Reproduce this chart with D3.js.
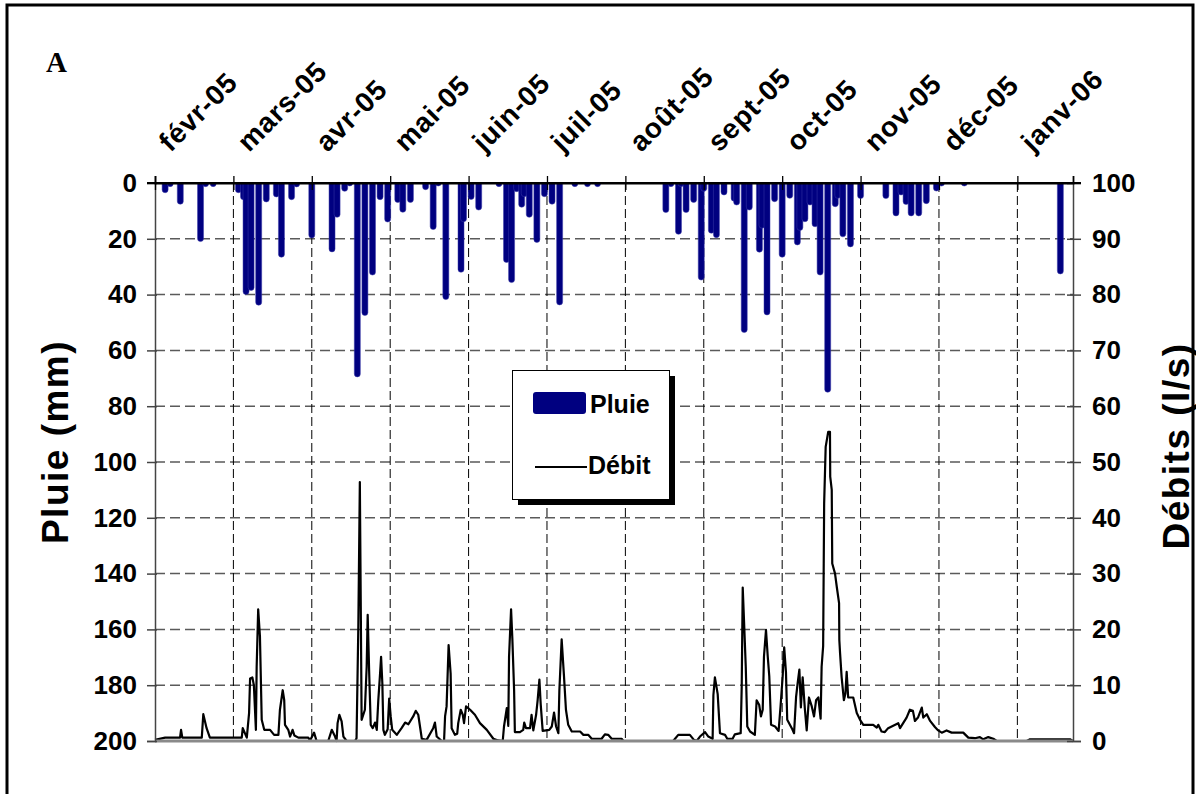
<!DOCTYPE html>
<html>
<head>
<meta charset="utf-8">
<script src="https://cdn.jsdelivr.net/npm/d3@7"></script>
<style>
    body { margin: 0; background: #fff; }
    svg text { font-family: "Liberation Sans", Arial, sans-serif; font-weight: bold; fill: #000; }
</style>
</head>
<body>
<div id="chart"></div>
<script>
'use strict';

// Axis set-up: daily series starting 1 Feb 2005, month ticks every 31 days
const startDate = new Date(2005, 1, 1);
const spanDays = 363;
const tickStep = 31;
const monthLabels = ['févr-05', 'mars-05', 'avr-05', 'mai-05', 'juin-05', 'juil-05',
    'août-05', 'sept-05', 'oct-05', 'nov-05', 'déc-05', 'janv-06'];
const rainTicks = [0, 20, 40, 60, 80, 100, 120, 140, 160, 180, 200];
const debitTicks = [0, 10, 20, 30, 40, 50, 60, 70, 80, 90, 100];

// Pluie (mm) - day offset from 1 Feb 2005 and daily rain
const rainDay = [4, 6, 10, 18, 20, 23, 33, 35, 36, 38, 41, 44, 48, 50, 54, 56, 62, 70, 72, 75, 77,
    80, 83, 86, 89, 92, 96, 98, 101, 107, 110, 112, 115, 121, 122, 125, 128, 136, 139, 141, 143,
    145, 146, 148, 151, 154, 157, 160, 166, 171, 175, 202, 204, 207, 208, 210, 213, 216, 217,
    220, 222, 225, 229, 230, 233, 235, 239, 240, 242, 245, 248, 251, 254, 255, 257, 259, 261,
    263, 266, 269, 270, 272, 275, 279, 289, 293, 295, 297, 299, 302, 305, 309, 311, 320, 358];
const rainMm = [3.5, 1.3, 7.6, 21, 1.3, 1.3, 3.5, 6, 40, 38.5, 43.8, 6.8, 5, 26.6, 6, 1.4, 19.7, 24.7, 12.3, 3, 1,
    69.5, 47.5, 33, 6, 14, 7, 10.5, 7, 2.4, 16.7, 1, 41.8, 32, 13.9, 5.9, 9.7, 1.3, 28.5, 35.7, 3.1,
    8.7, 4.9, 12.3, 21.3, 4.9, 7.6, 43.7, 1.3, 1.3, 1.3, 10.6, 1.3, 18.4, 1.3, 10.6, 7, 34.8, 3,
    18, 19.6, 4.3, 6.5, 7.9, 53.6, 9.7, 24.8, 16.2, 47.3, 6.7, 26.6, 5.5, 22.2, 17, 13.9, 7.9, 15.7,
    33, 75, 8.5, 5.5, 19.3, 22.9, 5.6, 5.6, 11.8, 4.3, 7.7, 11.8, 11.8, 7.4, 2.9, 1.1, 1.1, 32.6];

// Débit (l/s) - traced vertices of the discharge curve
const debitDay = [0, 4.0, 9.9, 10.3, 10.8, 18.5, 19.1, 20.4, 21.7, 34.3, 34.7, 36.3, 37.2, 37.6, 38.5,
    39.1, 39.9, 40.2, 40.8, 41.5, 42.2, 43.2, 45.5, 47.1, 48.8, 49.4, 50.5, 51.1, 51.4, 52.7, 53.4,
    54.4, 55.1, 56.7, 60.6, 61.3, 62.9, 63.9, 68.5, 69.9, 71.2, 71.8, 72.2, 72.9, 73.8, 74.5, 75.8,
    79.1, 79.7, 80.4, 81.0, 81.7, 83.0, 83.7, 84.1, 84.7, 85.3, 86.1, 87.0, 87.7, 88.3, 89.0, 89.4,
    89.9, 90.3, 90.9, 92.0, 92.6, 93.2, 93.8, 95.6, 97.5, 98.9, 100.2, 102.1, 103.1, 104.1, 105.5,
    107.4, 110.0, 110.7, 111.4, 113.4, 114.3, 114.7, 115.3, 116.1, 116.9, 117.3, 118.6, 119.5,
    119.9, 120.9, 121.7, 122.2, 123.0, 124.6, 126.5, 128.5, 131.2, 133.8, 135.7, 137.5, 138.0,
    139.1, 139.7, 140.0, 140.8, 141.3, 142.0, 142.3, 144.3, 145.6, 146.0, 146.7, 148.3, 148.9,
    149.6, 150.7, 151.3, 152.0, 152.5, 153.3, 155.9, 156.9, 157.8, 158.6, 159.5, 159.9, 160.8,
    161.7, 162.5, 163.4, 164.8, 168.1, 169.4, 171.3, 172.7, 176.6, 177.9, 179.2, 180.6, 184.5,
    185.2, 204.9, 206.9, 211.5, 213.1, 214.2, 215.5, 217.5, 218.8, 220.5, 220.8, 221.4, 222.5,
    223.4, 225.4, 226.3, 228.4, 229.3, 231.6, 232.0, 232.4, 233.0, 233.6, 234.2, 235.3, 237.2,
    237.9, 238.9, 239.6, 240.3, 240.8, 241.6, 242.3, 242.9, 243.6, 245.2, 246.6, 247.4, 248.2,
    248.8, 249.5, 250.0, 251.8, 252.7, 253.5, 254.1, 254.8, 255.4, 256.1, 257.0, 257.7, 258.6,
    259.7, 260.6, 261.4, 262.3, 263.2, 263.6, 264.2, 264.6, 265.2, 266.2, 266.9, 267.0, 267.6,
    267.8, 268.9, 269.6, 270.5, 270.6, 270.9, 271.5, 272.4, 273.0, 273.5, 274.1, 276.1, 277.5,
    278.8, 280.1, 284.0, 285.4, 286.0, 287.3, 288.6, 289.9, 293.9, 294.6, 297.2, 298.5, 299.7,
    300.5, 301.7, 303.2, 303.8, 305.2, 306.5, 308.4, 309.7, 311.1, 313.0, 315.0, 319.6, 321.6,
    324.2, 326.2, 327.5, 329.5, 331.5, 332.8, 344.7, 346.0, 361.8, 363.0];
const debitLs = [0.2, 0.6, 0.6, 2.0, 0.6, 0.6, 4.8, 2.3, 0.6, 0.6, 2.3, 0.6, 5, 11.2, 11.4,
    10, 2, 13.3, 23.6, 18.7, 3.8, 2, 2, 1.1, 1.1, 5.6, 9.1, 7.3, 2.9, 2, 0.8,
    2, 1, 0.6, 0.6, 0.1, 1.5, 0, 0, 2, 0.8, 0, 3.2, 4.7, 3.5, 0.8, 0,
    0, 0.5, 20.5, 46.4, 3.8, 5.6, 13.3, 22.6, 12.1, 2.9, 2.3, 3.3, 2, 7.3, 12.1, 15.1,
    10.3, 2, 1.1, 2.1, 7.6, 4.4, 2, 1.1, 2.3, 3.3, 3, 4.4, 5.4, 4.7, 0.4,
    0.2, 2.3, 3.3, 0.8, 0, 0, 4.4, 6.2, 17.2, 12.1, 2.3, 1.1, 1.3,
    3.2, 5.6, 4.7, 3.2, 6.2, 5.6, 4.7, 3.2, 2, 0.4, 0.1, 0, 2.6,
    5.9, 2.7, 15.1, 23.6, 18.4, 9.1, 1.6, 1.6, 2, 3.3, 2.3, 2.3, 4.7,
    1.9, 4.7, 7.3, 11, 6.7, 1.8, 2, 2.6, 5.1, 2.6, 1.4, 9.1, 18.2,
    11.8, 5.6, 2.9, 1.7, 1.7, 1.1, 1.1, 0.4, 0.4, 1.2, 1.1, 0.4, 0.4,
    0, 0, 1.1, 1.1, 0.2, 0, 0.8, 1.6, 0.8, 0.4, 8.2, 11.4, 8.4,
    1.4, 1.1, 0.4, 0.4, 1.2, 1.4, 9.7, 27.5, 20.5, 13.3, 2.6, 1.7, 1.1,
    7.3, 6.5, 4.4, 5.6, 15.1, 19.9, 15.1, 11.6, 2.9, 2.6, 1.8, 6.5, 11.6,
    16.8, 12.3, 3.8, 2.3, 1.4, 7.9, 10.3, 12.8, 6, 11.4, 5.6, 1.9, 7.8,
    6.2, 4.4, 7.3, 7.8, 4, 13.3, 17, 42.6, 52.7, 55.4, 55.4, 47.4, 45,
    31.8, 30, 27.6, 24.7, 18.1, 15.7, 11.5, 7.3, 8.5, 12.4, 7.8, 7.8, 5,
    3.8, 2.9, 2.9, 2.4, 2.9, 1.7, 1.6, 2.3, 3.2, 2.3, 4.2, 5.6, 5.4,
    3.6, 4.2, 6, 4.2, 4.8, 3.6, 2.5, 1.9, 1.5, 1.9, 1.5, 1.5, 0.6,
    0.5, 0.7, 0.3, 0.7, 0.4, 0, 0, 0.3, 0.3, 0];

const width = 1196;
const height = 794;
const plot = { left: 155, right: 1073, top: 183, bottom: 741 };
const barWidth = 6;
const barColor = '#000080';

function dayToDate(d) {
    return new Date(startDate.getTime() + d * 864e5);
}

function main() {
    let svg = d3.select('#chart')
        .append('svg')
        .attr('width', width)
        .attr('height', height);

    // Outer frame
    svg.append('rect')
        .attr('x', 7).attr('y', 5)
        .attr('width', 1186).attr('height', 800)
        .attr('fill', 'none').attr('stroke', '#000').attr('stroke-width', 3);

    let x = d3.scaleTime()
        .domain([startDate, dayToDate(spanDays)])
        .range([plot.left, plot.right]);
    let yRain = d3.scaleLinear().domain([0, 200]).range([plot.top, plot.bottom]);
    let yDebit = d3.scaleLinear().domain([0, 100]).range([plot.bottom, plot.top]);

    let monthDates = monthLabels.map((m, i) => dayToDate(i * tickStep));

    // Gridlines
    svg.append('g').selectAll('line')
        .data(rainTicks.slice(1, -1))
        .enter().append('line')
        .attr('x1', plot.left).attr('x2', plot.right)
        .attr('y1', d => yRain(d)).attr('y2', d => yRain(d))
        .attr('stroke', '#5a5a5a').attr('stroke-width', 1.5)
        .attr('stroke-dasharray', '10,5');

    svg.append('g').selectAll('line')
        .data(monthDates.slice(1))
        .enter().append('line')
        .attr('x1', d => x(d)).attr('x2', d => x(d))
        .attr('y1', plot.top).attr('y2', plot.bottom)
        .attr('stroke', '#000').attr('stroke-width', 1)
        .attr('stroke-dasharray', '9,4');

    // Rain bars hanging from the top axis, rounded at the bottom
    let r = barWidth / 2;
    svg.append('g').selectAll('path')
        .data(rainDay.map((d, i) => ({ day: d, mm: rainMm[i] })))
        .enter().append('path')
        .attr('fill', barColor)
        .attr('stroke', '#3b3ba8').attr('stroke-width', 0.5)
        .attr('d', (d) => {
            let cx = x(dayToDate(d.day));
            let yb = Math.max(yRain(d.mm), plot.top + r);
            return `M${cx - r},${plot.top}V${yb - r}`
                + `A${r},${r} 0 0 0 ${cx + r},${yb - r}`
                + `V${plot.top}Z`;
        });

    // Discharge line
    let line = d3.line()
        .x(d => x(dayToDate(d[0])))
        .y(d => yDebit(d[1]));
    svg.append('path')
        .datum(debitDay.map((d, i) => [d, debitLs[i]]))
        .attr('fill', 'none')
        .attr('stroke', '#000')
        .attr('stroke-width', 2.2)
        .attr('stroke-linejoin', 'round')
        .attr('d', line);

    // Bottom baseline (grey)
    svg.append('line')
        .attr('x1', plot.left).attr('x2', plot.right)
        .attr('y1', plot.bottom).attr('y2', plot.bottom)
        .attr('stroke', '#8a8a8a').attr('stroke-width', 3);

    // Left axis - Pluie
    let leftAxis = svg.append('g')
        .attr('transform', `translate(${plot.left},0)`)
        .call(d3.axisLeft(yRain).tickValues(rainTicks).tickSize(8).tickPadding(10));
    leftAxis.select('.domain').attr('stroke', '#444').attr('stroke-width', 1.5);
    leftAxis.selectAll('.tick line').attr('x2', 2).attr('x1', -8).attr('stroke', '#444').attr('stroke-width', 1.5);
    leftAxis.selectAll('text').style('font-size', '26px');

    // Right axis - Débits
    let rightAxis = svg.append('g')
        .attr('transform', `translate(${plot.right},0)`)
        .call(d3.axisRight(yDebit).tickValues(debitTicks).tickSize(8).tickPadding(11));
    rightAxis.select('.domain').attr('stroke', '#444').attr('stroke-width', 1.5);
    rightAxis.selectAll('.tick line').attr('x1', -6).attr('x2', 8).attr('stroke', '#444').attr('stroke-width', 1.5);
    rightAxis.selectAll('text').style('font-size', '26px');

    // Top axis - months
    let topAxis = svg.append('g')
        .attr('transform', `translate(0,${plot.top})`)
        .call(d3.axisTop(x).tickValues(monthDates).tickSize(7)
            .tickFormat((d, i) => monthLabels[i]));
    topAxis.select('.domain').attr('stroke', '#000').attr('stroke-width', 1.8);
    topAxis.selectAll('.tick line').attr('y1', 7).attr('y2', -7).attr('stroke', '#000').attr('stroke-width', 1.3);
    topAxis.selectAll('text')
        .attr('x', 15).attr('y', -30).attr('dy', 0)
        .attr('text-anchor', 'start')
        .attr('transform', 'rotate(-45 15 -30)')
        .style('font-size', '28px')
        .style('letter-spacing', '0.8px');
    svg.append('line')
        .attr('x1', plot.left - 8).attr('x2', plot.right + 8)
        .attr('y1', plot.top).attr('y2', plot.top)
        .attr('stroke', '#000').attr('stroke-width', 1.8);

    // Axis titles
    svg.append('text')
        .attr('transform', 'translate(68,442) rotate(-90)')
        .attr('text-anchor', 'middle')
        .style('font-size', '37px')
        .style('letter-spacing', '1.5px')
        .text('Pluie (mm)');
    svg.append('text')
        .attr('transform', 'translate(1189,446) rotate(-90)')
        .attr('text-anchor', 'middle')
        .style('font-size', '37px')
        .style('letter-spacing', '1.5px')
        .text('Débits (l/s)');

    svg.append('text')
        .attr('x', 46).attr('y', 72)
        .style('font-family', '"Liberation Serif", "Times New Roman", serif')
        .style('font-size', '29px')
        .text('A');

    // Legend
    let legend = svg.append('g');
    legend.append('rect')
        .attr('x', 518).attr('y', 376).attr('width', 157).attr('height', 129)
        .attr('fill', '#000');
    legend.append('rect')
        .attr('x', 512.5).attr('y', 370.5).attr('width', 157).attr('height', 129)
        .attr('fill', '#fff').attr('stroke', '#000').attr('stroke-width', 1);
    legend.append('rect')
        .attr('x', 533).attr('y', 392).attr('width', 53).attr('height', 22).attr('rx', 3)
        .attr('fill', barColor);
    legend.append('text')
        .attr('x', 590).attr('y', 413)
        .style('font-size', '25px')
        .text('Pluie');
    legend.append('line')
        .attr('x1', 535).attr('x2', 587).attr('y1', 467).attr('y2', 467)
        .attr('stroke', '#000').attr('stroke-width', 2);
    legend.append('text')
        .attr('x', 588).attr('y', 474)
        .style('font-size', '25px')
        .text('Débit');
}

main();
</script>
</body>
</html>
